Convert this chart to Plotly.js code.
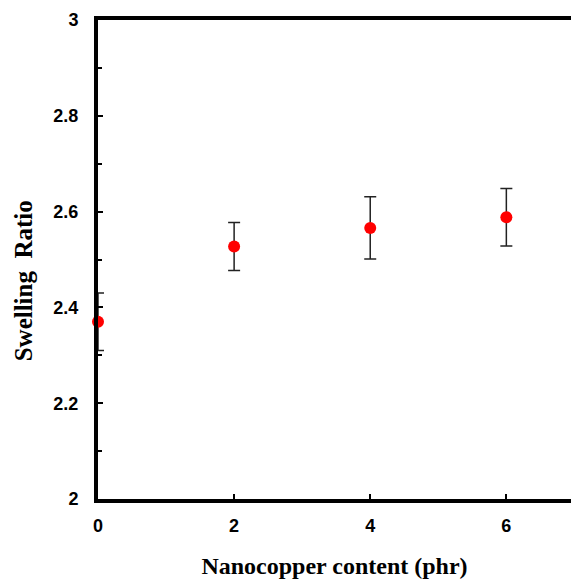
<!DOCTYPE html>
<html>
<head>
<meta charset="utf-8">
<script src="https://cdn.plot.ly/plotly-3.0.1.min.js"></script>
<style>html,body{margin:0;padding:0;background:#fff;overflow:hidden}</style>
</head>
<body>
<div id="chart" style="width:571px;height:579px"></div>
<script>
const nanocopper = [0, 2, 4, 6];
const swellingRatio = [2.37, 2.527, 2.566, 2.588];
const errorBars = [0.06, 0.05, 0.065, 0.06];
const xTicks = [0, 2, 4, 6];
const yTicks = [2, 2.2, 2.4, 2.6, 2.8, 3];
const yTickText = ['2', '2.2', '2.4', '2.6', '2.8', '3'];
const xTitle = 'Nanocopper content (phr)';
const yTitle = 'Swelling\u00a0 Ratio';

const trace = {
  x: nanocopper,
  y: swellingRatio,
  type: 'scatter',
  mode: 'markers',
  marker: {color: '#ff0000', size: 12},
  error_y: {type: 'data', array: errorBars, visible: true, color: '#222', thickness: 1.5, width: 6},
  cliponaxis: false
};

const layout = {
  width: 571, height: 579,
  margin: {l: 98, r: 0, t: 20, b: 80},
  paper_bgcolor: '#fff', plot_bgcolor: '#fff',
  showlegend: false,
  xaxis: {
    range: [0, 6.95], tickvals: xTicks, ticktext: xTicks.map(String),
    ticks: 'inside', ticklen: 5, tickwidth: 2, tickcolor: '#000',
    showline: true, linewidth: 4, linecolor: '#000', mirror: true,
    showgrid: false, zeroline: false, ticklabelstandoff: 7,
    tickfont: {family: 'Liberation Sans, Arial, sans-serif', size: 18, color: '#000', weight: 'bold'},
    title: {text: xTitle, standoff: 25,
      font: {family: 'Liberation Serif, Times New Roman, serif', size: 24, color: '#000', weight: 'bold'}}
  },
  yaxis: {
    range: [2, 3], tickvals: yTicks, ticktext: yTickText,
    ticks: 'inside', ticklen: 5, tickwidth: 2, tickcolor: '#000',
    minor: {dtick: 0.1, ticks: 'inside', ticklen: 4, tickwidth: 2, tickcolor: '#000'},
    showline: true, linewidth: 4, linecolor: '#000',
    showgrid: false, zeroline: false, ticklabelstandoff: 12,
    tickfont: {family: 'Liberation Sans, Arial, sans-serif', size: 18, color: '#000', weight: 'bold'}
  },
  annotations: [{
    text: yTitle, textangle: -90, showarrow: false,
    xref: 'paper', yref: 'paper', x: -0.158, y: 0.455,
    xanchor: 'center', yanchor: 'middle',
    font: {family: 'Liberation Serif, Times New Roman, serif', size: 25, color: '#000', weight: 'bold'}
  }]
};

Plotly.newPlot('chart', [trace], layout, {displayModeBar: false, staticPlot: true});
</script>
</body>
</html>
